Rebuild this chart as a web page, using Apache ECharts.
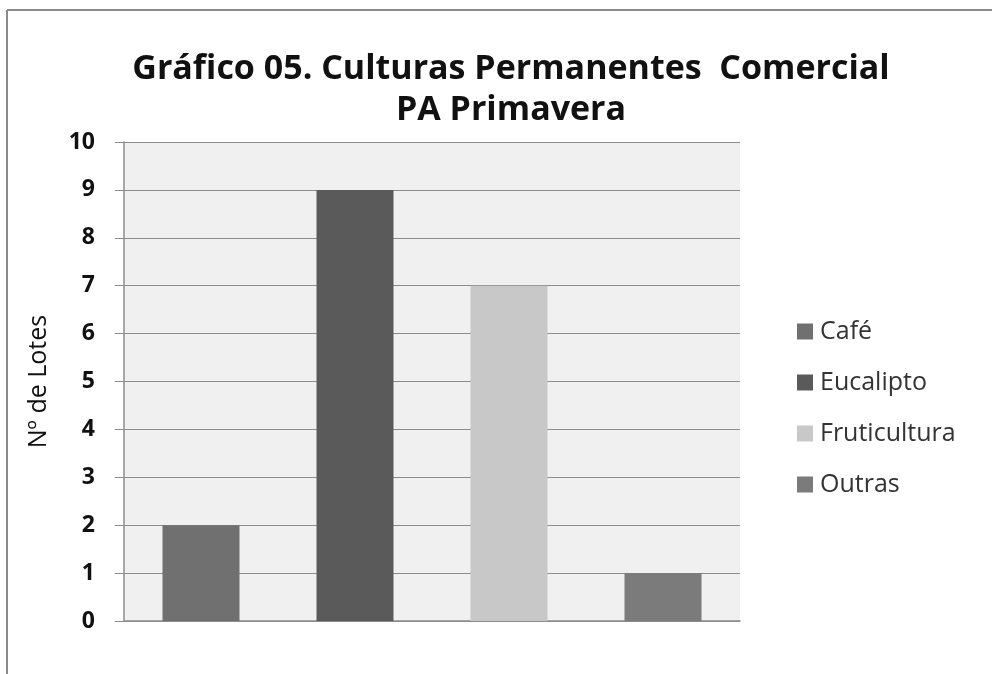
<!DOCTYPE html>
<html>
<head>
<meta charset="utf-8">
<script src="https://cdn.jsdelivr.net/npm/echarts@6/dist/echarts.min.js"></script>
<style>
  html, body { margin: 0; padding: 0; background: #ffffff; }
  #chart { width: 992px; height: 674px; }
</style>
</head>
<body>
<div id="chart"></div>
<script>
// categories / series
var categories = ["Café", "Eucalipto", "Fruticultura", "Outras"];
var values = [2, 9, 7, 1];
var colors = ["#707070", "#5a5a5a", "#c8c8c8", "#7b7b7b"];
var yTicks = [0, 1, 2, 3, 4, 5, 6, 7, 8, 9, 10];

var myChart = echarts.init(document.getElementById("chart"));

// one series per category so the legend shows each one
var series = categories.map(function (name, i) {
  var d = categories.map(function (c, j) { return j === i ? values[i] : null; });
  return {
    name: name,
    type: "bar",
    stack: "all",
    data: d,
    barWidth: "50%",
    itemStyle: { color: colors[i] }
  };
});

myChart.setOption({
  animation: false,
  title: {
    text: "Gráfico 05. Culturas Permanentes  Comercial\nPA Primavera",
    left: 506,
    textAlign: "center",
    top: 44,
    textStyle: {
      color: "#111",
      fontSize: 34,
      fontFamily: "Open Sans",
      fontWeight: "bold",
      lineHeight: 41
    }
  },
  legend: {
    orient: "vertical",
    left: 792,
    top: 314,
    itemGap: 26,
    itemWidth: 16,
    itemHeight: 16,
    icon: "rect",
    textStyle: { color: "#333", fontSize: 25, lineHeight: 24, fontFamily: "Open Sans", padding: [0, 0, 0, 2] },
    data: categories
  },
  grid: { left: 124, right: 252, top: 142, bottom: 53, backgroundColor: "#f0f0f0", show: true, borderWidth: 0 },
  xAxis: {
    type: "category",
    data: categories,
    axisLine: { show: true, lineStyle: { color: "#8c8c8c", width: 1.5 } },
    axisTick: { show: false },
    axisLabel: { show: false }
  },
  yAxis: {
    type: "value",
    min: yTicks[0],
    max: yTicks[yTicks.length - 1],
    interval: 1,
    name: "Nº de Lotes",
    nameLocation: "middle",
    nameGap: 73,
    nameTextStyle: { color: "#111", fontSize: 25, fontFamily: "Open Sans" },
    axisLine: { show: true, lineStyle: { color: "#8c8c8c", width: 1.5 } },
    axisTick: { show: true, length: 9, lineStyle: { color: "#8c8c8c" } },
    axisLabel: { color: "#111", fontSize: 23, fontWeight: "bold", fontFamily: "Open Sans", margin: 29 },
    splitLine: { show: true, lineStyle: { color: "#8c8c8c", width: 1.2 } }
  },
  graphic: [
    { type: "line", shape: { x1: 7, y1: 10, x2: 992, y2: 10 }, style: { stroke: "#8a8a8a", lineWidth: 2 } },
    { type: "line", shape: { x1: 7, y1: 10, x2: 7, y2: 674 }, style: { stroke: "#8a8a8a", lineWidth: 2 } }
  ],
  series: series
});
</script>
</body>
</html>
